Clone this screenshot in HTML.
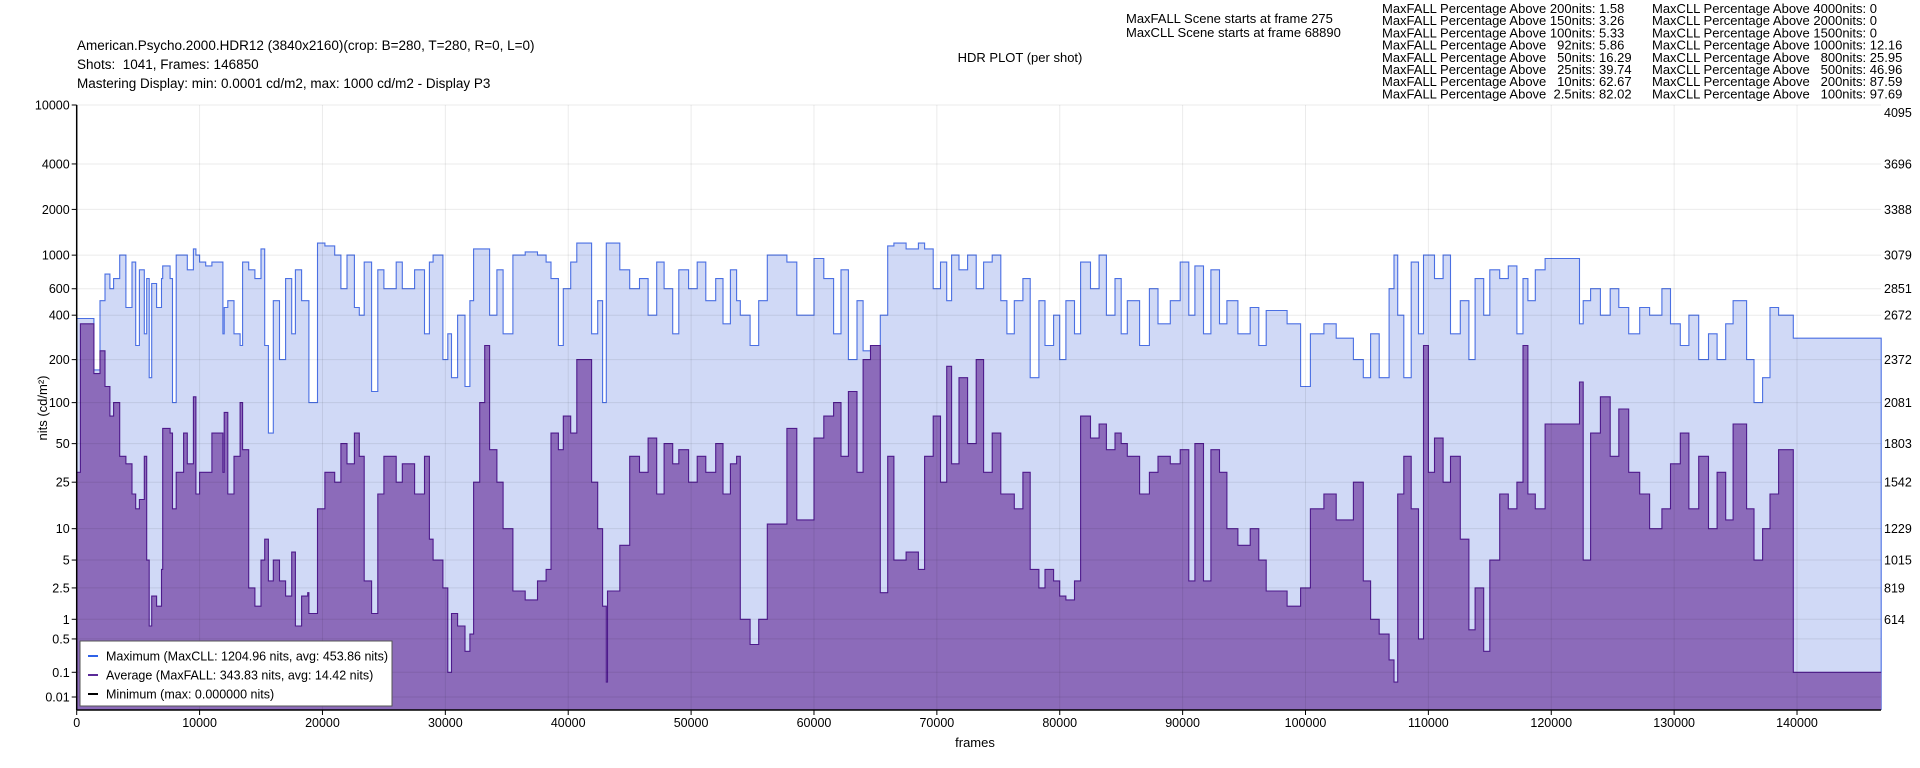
<!DOCTYPE html>
<html><head><meta charset="utf-8"><style>
html,body{margin:0;padding:0;background:#fff;}
svg{display:block;font-family:"Liberation Sans",Arial,sans-serif;}
.pre{white-space:pre;}
</style></head><body>
<svg id="chart" width="1920" height="768" viewBox="0 0 1920 768" xmlns="http://www.w3.org/2000/svg">
<g font-size="13.5" fill="#000">
<text x="77" y="50">American.Psycho.2000.HDR12 (3840x2160)(crop: B=280, T=280, R=0, L=0)</text>
<text x="77" y="69" class="pre" xml:space="preserve">Shots:  1041, Frames: 146850</text>
<text x="77" y="88">Mastering Display: min: 0.0001 cd/m2, max: 1000 cd/m2 - Display P3</text>
<text x="1020" y="62" text-anchor="middle" font-size="13">HDR PLOT (per shot)</text>
<text x="1126" y="23" font-size="13">MaxFALL Scene starts at frame 275</text>
<text x="1126" y="37" font-size="13">MaxCLL Scene starts at frame 68890</text>
</g>
<g id="stats" font-size="13"></g>
<g id="plot"></g>
</svg>
<script>
const frames=[0,300,1400,1900,2300,2700,3000,3500,4000,4500,4800,5100,5500,5700,5900,6100,6500,6900,7000,7600,7800,8100,8700,9000,9500,9700,10000,10500,11000,11900,12000,12300,12800,13300,13500,14000,14500,15000,15300,15600,16000,16500,17000,17500,17800,18300,18800,18900,19600,20200,21000,21500,22000,22600,23000,23400,24000,24500,25000,26000,26500,27500,28300,28700,29000,29800,30200,30500,31000,31600,32000,32300,32800,33200,33600,34200,34700,35500,36500,37500,38200,38600,39200,39600,40200,40700,41900,42400,42800,43100,43200,44200,45000,45800,46500,47200,47800,48500,49000,49800,50500,51200,52000,52600,53200,53700,54000,54800,55500,56200,57800,58600,60000,60800,61600,62200,62800,63500,64000,64600,65400,66000,66500,67500,68500,69000,69700,70300,70800,71200,71800,72500,73200,73800,74500,75200,75700,76300,77000,77600,78300,78800,79500,80000,80500,81200,81700,82500,83200,83800,84500,85000,85500,86500,87300,88000,89000,89800,90500,91000,91700,92300,93000,93600,94500,95500,96200,96800,98500,99600,100400,101500,102500,103900,104700,105300,106000,106800,107200,107500,108000,108600,109200,109600,110000,110500,111200,111800,112600,113300,113800,114500,115000,115800,116500,117200,117700,118100,118700,119500,122300,122600,123200,124000,124800,125500,126300,127200,128000,129000,129700,130500,131200,132000,132800,133500,134200,134800,135900,136500,137200,137800,138500,139700];
const maxNits=[380,380,170,500,750,600,700,1000,450,900,250,800,300,700,150,650,450,700,850,700,100,1000,1000,800,1100,1000,900,850,900,300,450,500,300,250,900,800,700,1100,250,60,500,200,700,300,800,500,500,100,1200,1150,1000,600,1000,450,400,900,120,800,600,900,600,800,300,900,1000,200,300,150,400,130,500,1100,1100,1100,400,800,300,1000,1050,1000,900,700,250,600,900,1200,300,500,100,1200,1200,800,600,700,400,900,600,300,800,600,900,500,700,350,800,500,400,250,500,1000,900,400,950,700,300,800,200,500,230,250,400,1150,1200,1100,1200,1100,600,900,500,1000,800,1000,600,900,1000,500,300,500,700,150,500,250,400,200,500,300,900,600,1000,400,700,300,500,250,600,350,500,900,400,850,300,800,350,500,300,450,250,430,350,130,300,350,280,200,150,300,150,600,1000,400,150,900,300,1000,1000,700,1000,300,500,200,700,400,800,700,850,300,700,500,800,950,350,500,600,400,600,450,300,450,400,600,350,250,400,200,300,200,350,500,200,100,150,450,400,280];
const avgNits=[30,350,160,230,130,80,100,40,35,20,15,18,40,5,0.8,2,1.5,4,65,60,15,30,60,35,110,20,30,30,60,30,85,20,40,100,45,2.5,1.5,5,8,3,5,3,2,6,0.8,2,2.2,1.2,15,30,25,50,35,60,40,3,1.2,20,40,25,35,20,40,8,5,2.5,0.1,1.2,0.8,0.3,0.6,25,100,250,45,25,10,2.3,1.8,3,4,60,45,80,60,200,25,10,1.5,0.05,2.3,7,40,30,55,20,50,35,45,25,40,30,50,20,35,40,1.0,0.4,1,11,65,12,55,80,100,40,120,30,200,250,2.2,40,5,6,4,40,80,25,180,35,150,50,200,30,60,20,20,15,30,4,2.5,4,3,2,1.8,3,80,55,70,45,60,50,40,20,30,40,35,45,3,50,3,45,30,10,7,10,5,2.3,1.5,2.5,15,20,12,25,3,1,0.6,0.2,0.05,20,40,15,0.5,250,30,55,25,40,8,0.7,2.5,0.3,5,20,15,25,250,20,15,70,140,5,60,110,40,90,30,20,10,15,35,60,15,40,10,30,12,70,15,5,10,20,45,0.1];
const totalFrames=146850;
const xTicks=[0,10000,20000,30000,40000,50000,60000,70000,80000,90000,100000,110000,120000,130000,140000];
const yTicks=[10000,4000,2000,1000,600,400,200,100,50,25,10,5,2.5,1,0.5,0.1,0.01];
const yTickLabels=["10000","4000","2000","1000","600","400","200","100","50","25","10","5","2.5","1","0.5","0.1","0.01"];
const codeTicks=[10000,4000,2000,1000,600,400,200,100,50,25,10,5,2.5,1];
const codeLabels=["4095","3696","3388","3079","2851","2672","2372","2081","1803","1542","1229","1015","819","614"];
const fallStats=["MaxFALL Percentage Above 200nits: 1.58","MaxFALL Percentage Above 150nits: 3.26","MaxFALL Percentage Above 100nits: 5.33","MaxFALL Percentage Above   92nits: 5.86","MaxFALL Percentage Above   50nits: 16.29","MaxFALL Percentage Above   25nits: 39.74","MaxFALL Percentage Above   10nits: 62.67","MaxFALL Percentage Above  2.5nits: 82.02"];
const cllStats=["MaxCLL Percentage Above 4000nits: 0","MaxCLL Percentage Above 2000nits: 0","MaxCLL Percentage Above 1500nits: 0","MaxCLL Percentage Above 1000nits: 12.16","MaxCLL Percentage Above   800nits: 25.95","MaxCLL Percentage Above   500nits: 46.96","MaxCLL Percentage Above   200nits: 87.59","MaxCLL Percentage Above   100nits: 97.69"];

const NS="http://www.w3.org/2000/svg";
const L=76.7,B=710,T=105,PXF=0.012288;
function pq(n){const m1=0.1593017578125,m2=78.84375,c1=0.8359375,c2=18.8515625,c3=18.6875;const y=Math.pow(Math.max(n,0)/10000,m1);return Math.pow((c1+c2*y)/(1+c3*y),m2);}
function xs(f){return L+f*PXF;}
function ys(n){return B-(B-T)*pq(n);}
function mk(tag,attrs,parent){const e=document.createElementNS(NS,tag);for(const k in attrs)e.setAttribute(k,attrs[k]);parent.appendChild(e);return e;}
const plot=document.getElementById('plot');
const stats=document.getElementById('stats');
fallStats.forEach((s,i)=>{const t=mk('text',{x:1382,y:13+i*12.2,'class':'pre'},stats);t.textContent=s;

});
cllStats.forEach((s,i)=>{const t=mk('text',{x:1652,y:13+i*12.2,'class':'pre'},stats);t.textContent=s;

});

function stepPath(vals){let d='M'+xs(0)+','+B;for(let i=0;i<frames.length;i++){const x0=xs(frames[i]),x1=xs(i+1<frames.length?frames[i+1]:totalFrames),y=ys(vals[i]).toFixed(1);d+=' L'+x0.toFixed(1)+','+y+' L'+x1.toFixed(1)+','+y;}return d;}
function stepLine(vals){let d='';for(let i=0;i<frames.length;i++){const x0=xs(frames[i]),x1=xs(i+1<frames.length?frames[i+1]:totalFrames),y=ys(vals[i]).toFixed(1);d+=(i?' L':'M')+x0.toFixed(1)+','+y+' L'+x1.toFixed(1)+','+y;}return d;}
const maxD=stepPath(maxNits)+' L'+xs(totalFrames)+','+B+' Z';
const mf=mk('path',{d:maxD,fill:'#d0d9f6',stroke:'none'},plot);


const ml=mk('path',{d:stepLine(maxNits)+' L'+xs(totalFrames)+','+B,fill:'none',stroke:'#4a6fe3','stroke-width':1.1},plot);


const af=mk('path',{d:stepPath(avgNits)+' L'+xs(totalFrames)+','+B+' Z',fill:'#8c6bba',stroke:'none'},plot);


const al=mk('path',{d:stepLine(avgNits),fill:'none',stroke:'#4e1a8c','stroke-width':1.1},plot);


yTicks.forEach((v,i)=>{const y=ys(v);const g=mk('line',{x1:L,x2:1881,y1:y,y2:y,stroke:'rgba(0,0,0,0.08)','stroke-width':1},plot);


mk('line',{x1:L-5,x2:L,y1:y,y2:y,stroke:'#000'},plot);
const t=mk('text',{x:L-7,y:y+4.5,'text-anchor':'end','font-size':12.5},plot);t.textContent=yTickLabels[i];

});
codeTicks.forEach((v,i)=>{const y=ys(v);const t=mk('text',{x:1884,y:y+(i===0?12:4.5),'font-size':12.5},plot);t.textContent=codeLabels[i];

});
xTicks.forEach(v=>{const x=xs(v);const g=mk('line',{x1:x,x2:x,y1:T,y2:B,stroke:'rgba(0,0,0,0.08)'},plot);


mk('line',{x1:x,x2:x,y1:B,y2:B+5,stroke:'#000'},plot);
const t=mk('text',{x:x,y:B+17,'text-anchor':'middle','font-size':12.5},plot);t.textContent=String(v);

});
mk('line',{x1:L,x2:L,y1:T,y2:B,stroke:'#000','stroke-width':1.5},plot);
mk('line',{x1:L,x2:1881,y1:B,y2:B,stroke:'#000','stroke-width':1.5},plot);
const xt=mk('text',{x:975,y:747,'text-anchor':'middle','font-size':13},plot);xt.textContent='frames';


const yt=mk('text',{x:0,y:0,'text-anchor':'middle','font-size':13,transform:'translate(47,408) rotate(-90)'},plot);yt.textContent='nits (cd/m²)';


const lg=mk('g',{},plot);


mk('rect',{x:80,y:641,width:312,height:65,fill:'#fff',stroke:'#555','stroke-width':1},lg);
const entries=[['Maximum (MaxCLL: 1204.96 nits, avg: 453.86 nits)','#2f62e8',282],['Average (MaxFALL: 343.83 nits, avg: 14.42 nits)','#5a2a98',0],['Minimum (max: 0.000000 nits)','#000',0]];
entries.forEach((e,i)=>{const y=656+i*19;mk('line',{x1:88,x2:98,y1:y,y2:y,stroke:e[1],'stroke-width':2},lg);
const attrs={x:106,y:y+4.5,'font-size':12.5};if(e[2])attrs.textLength=e[2];
const t=mk('text',attrs,lg);t.textContent=e[0];

});
</script>
</body></html>
